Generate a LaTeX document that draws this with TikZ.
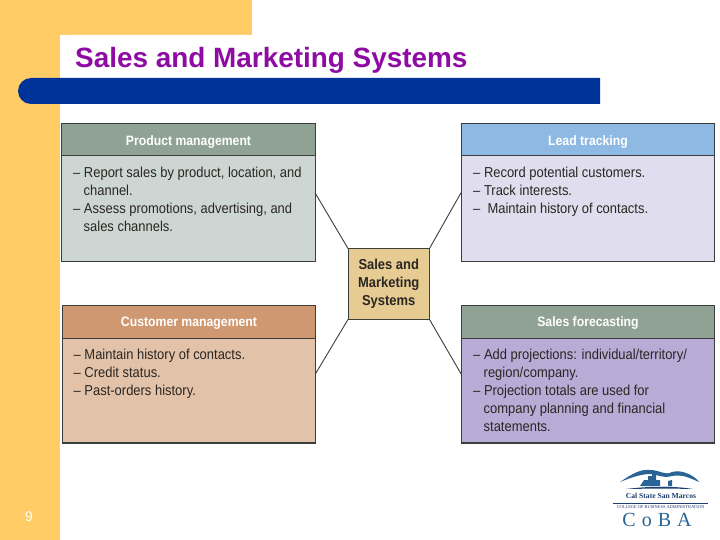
\documentclass[tikz,border=0pt]{standalone}
\usepackage{fontspec}
\setmainfont{Liberation Sans}
\newfontfamily\narrowfont[FakeStretch=0.9]{Liberation Sans}
\newfontfamily\logofont{Liberation Serif}
\usetikzlibrary{positioning}
\definecolor{sideorange}{HTML}{FFCC66}
\definecolor{barblue}{HTML}{003399}
\definecolor{titlepurple}{HTML}{8E0CA3}
\definecolor{edgegray}{HTML}{3A3F3E}
\definecolor{hdgreen}{HTML}{8FA294}
\definecolor{bdgreen}{HTML}{CDD6D3}
\definecolor{hdblue}{HTML}{8DB9E3}
\definecolor{bdlav}{HTML}{DFDDEE}
\definecolor{hdorange}{HTML}{D09870}
\definecolor{bdorange}{HTML}{E2C2A9}
\definecolor{bdpurple}{HTML}{B8ABD6}
\definecolor{ctrtan}{HTML}{E6CB93}
\definecolor{logoblue}{HTML}{2A6496}
\definecolor{logonavy}{HTML}{1F3F6E}
\definecolor{bodytext}{HTML}{2A2622}
\tikzset{
  card/.style={draw=edgegray,line width=1pt,minimum width=253.5pt,minimum height=137.5pt,inner sep=0pt,outer sep=0pt},
  headrule/.style={draw=edgegray,line width=1pt},
  headtext/.style={font=\narrowfont\bfseries\fontsize{13.6}{15}\selectfont,text=white,inner sep=0pt},
  bodytxt/.style={font=\narrowfont\fontsize{14.4}{18}\selectfont,text=bodytext,align=left,anchor=north west,inner sep=0pt},
  link/.style={draw=edgegray,line width=0.9pt},
  center box/.style={draw=edgegray,line width=0.7pt,fill=ctrtan,minimum width=81.5pt,minimum height=71pt,inner sep=0pt,outer sep=0pt,align=center,font=\narrowfont\bfseries\fontsize{14.4}{18}\selectfont,text=bodytext},
}
\begin{document}
\begin{tikzpicture}[x=1pt,y=-1pt]
\useasboundingbox (0,0) rectangle (720,540);
\fill[white] (0,0) rectangle (720,540);
% slide background
\fill[sideorange] (0,0) rectangle (60,540);
\fill[sideorange] (0,0) rectangle (252,35);
\fill[white,rounded corners=7pt] (60,35) rectangle (300,60);
\fill[white] (60,45) rectangle (300,78);
\fill[white] (252,0) rectangle (300,35);
\fill[barblue] (600,78) -- (31,78) arc[start angle=270,end angle=90,radius=13] -- (600,104) -- cycle;
\node[anchor=base west,inner sep=0pt,text=titlepurple,font=\bfseries\fontsize{27.9}{30}\selectfont] (title) at (75,68) {Sales and Marketing Systems};
\node[anchor=base,inner sep=0pt,text=white,font=\fontsize{14}{16}\selectfont] (pageno) at (29,521) {9};
% cards
\node[card,fill=bdgreen,anchor=north west] (pm) at (61.5,124) {};
\fill[hdgreen] (61.5,124) rectangle (315,156);
\draw[headrule] (61.5,156) -- (315,156);
\draw[edgegray,line width=1pt] (61.5,124) rectangle (315,261.5);
\node[headtext] (pmh) at (188.5,141.8) {Product management};
\node[bodytxt] (pmb) at (73,167) {– Report sales by product, location, and\\\hspace*{10.5pt}channel.\\– Assess promotions, advertising, and\\\hspace*{10.5pt}sales channels.};

\node[card,fill=bdlav,anchor=north west] (lt) at (461,124) {};
\fill[hdblue] (461,124) rectangle (714.5,156);
\draw[headrule] (461,156) -- (714.5,156);
\draw[edgegray,line width=1pt] (461,124) rectangle (714.5,261.5);
\node[headtext] (lth) at (588,141.8) {Lead tracking};
\node[bodytxt] (ltb) at (473,167) {– Record potential customers.\\– Track interests.\\–\hspace*{3.5pt} Maintain history of contacts.};

\node[card,fill=bdorange,anchor=north west] (cm) at (62,305) {};
\fill[hdorange] (62,305) rectangle (315.5,338);
\draw[headrule] (62,338) -- (315.5,338);
\draw[edgegray,line width=1pt] (62,305) rectangle (315.5,443);
\node[headtext] (cmh) at (189,323.3) {Customer management};
\node[bodytxt] (cmb) at (73.5,348.5) {– Maintain history of contacts.\\– Credit status.\\– Past-orders history.};

\node[card,fill=bdpurple,anchor=north west] (sf) at (461,305) {};
\fill[hdgreen] (461,305) rectangle (714.5,338);
\draw[headrule] (461,338) -- (714.5,338);
\draw[edgegray,line width=1pt] (461,305) rectangle (714.5,443);
\node[headtext] (sfh) at (588,323.3) {Sales forecasting};
\node[bodytxt] (sfb) at (473,348.5) {– Add projections: individual/territory/\\\hspace*{10.5pt}region/company.\\– Projection totals are used for\\\hspace*{10.5pt}company planning and financial\\\hspace*{10.5pt}statements.};

% centre
\node[center box,anchor=north west] (ctr) at (348,248.5) {Sales and\\Marketing\\Systems};
\draw[link] (pm.east) -- (ctr.north west);
\draw[link] (lt.west) -- (ctr.north east);
\draw[link] (cm.east) -- (ctr.south west);
\draw[link] (sf.west) -- (ctr.south east);

% logo
\fill[logoblue] (620,482) .. controls (632,474) and (640,469) .. (650,470) .. controls (660,470) and (665,476) .. (672,472) .. controls (682,469) and (695,476) .. (699,482) .. controls (690,478) and (682,474) .. (672,476) .. controls (662,479) and (655,473) .. (648,474) .. controls (638,475) and (630,478) .. (620,482) -- cycle;
\fill[logoblue] (640,486) -- (644,480) -- (648,480) -- (648,476) -- (652,476) -- (652,474) -- (656,474) -- (656,480) -- (660,480) -- (660,486) -- (668,486) -- (668,481) -- (672,480) -- (672,486) -- cycle;
\fill[logonavy] (626,489) .. controls (650,486) and (675,486) .. (693,489) .. controls (675,488.5) and (650,488.5) .. (626,489) -- cycle;
\node[inner sep=0pt,text=logonavy,font=\bfseries\logofont\fontsize{7.6}{9}\selectfont] (lg1) at (661,496) {Cal State San Marcos};
\draw[logonavy,line width=0.6pt] (613,503.3) -- (708,503.3);
\node[inner sep=0pt,text=logonavy,font=\logofont\fontsize{4.4}{5}\selectfont] (lg2) at (660.5,507) {COLLEGE OF BUSINESS ADMINISTRATION};
\node[inner sep=0pt,text=logoblue,font=\logofont\fontsize{20}{20}\selectfont] (lg3) at (657,520) {C\hspace{6pt}o\hspace{6pt}B\hspace{6pt}A};
\end{tikzpicture}
\end{document}
